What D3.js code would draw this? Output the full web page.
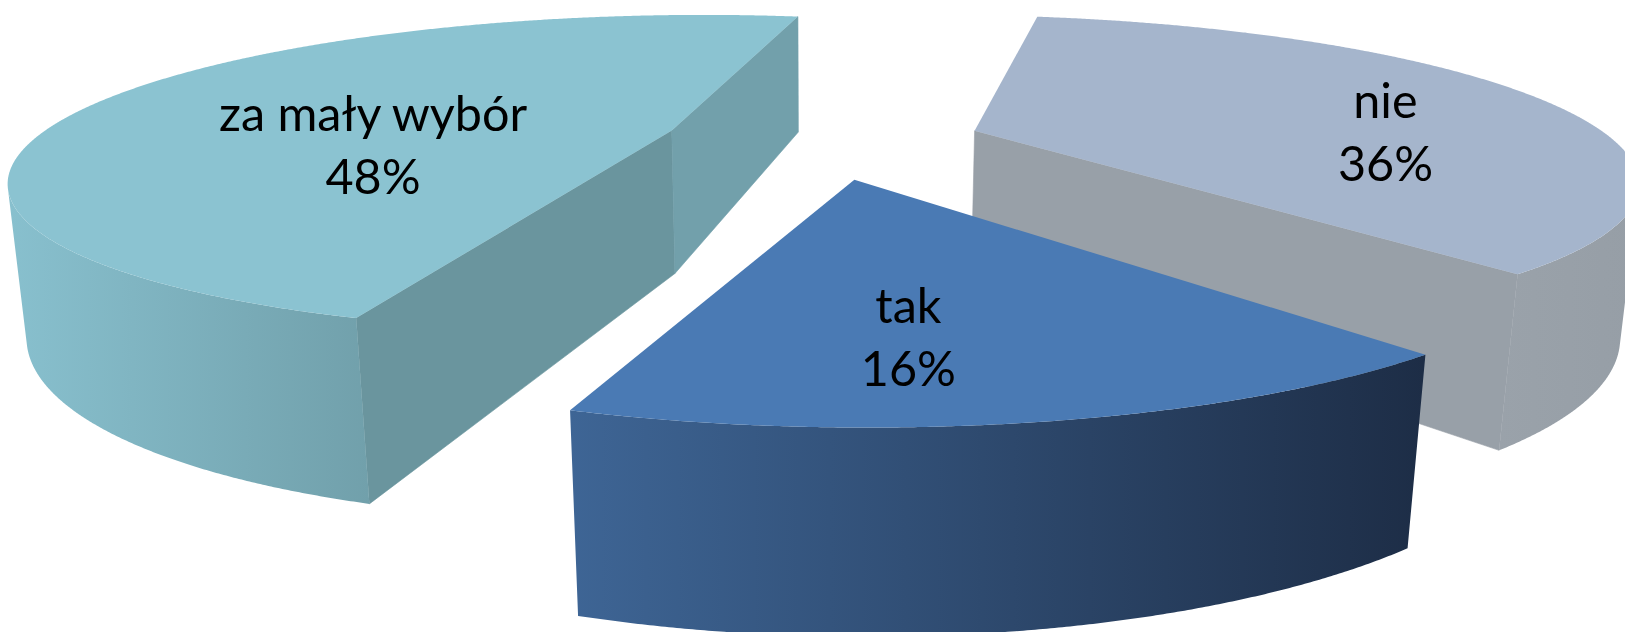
<!DOCTYPE html>
<html>
<head>
<meta charset="utf-8">
<script src="https://cdn.jsdelivr.net/npm/d3@7"></script>
<style>
  html, body { margin: 0; padding: 0; background: #ffffff; overflow: hidden; }
  svg { display: block; }
</style>
</head>
<body>
<svg id="chart" width="1625" height="632"></svg>
<script>
// Survey answers, in clockwise order seen from above
const categories  = ["nie", "tak", "za mały wybór"];
const shares      = [36, 16, 48];
const shareLabels = ["36%", "16%", "48%"];

// Face colours per slice
const topFill       = ["#a5b5cc", "#4a7ab4", "#8bc3d1"];
const wallLight     = ["#9aa2aa", "#3e6595", "#88c0ce"];
const wallDark      = ["#969ea6", "#1d2d46", "#71a0ab"];
const startFaceFill = ["#8f979f", "#2f4d75", "#6a959e"];
const endFaceFill   = ["#98a0a8", "#35537d", "#72a0ab"];

// 3-D pie geometry (unit radius) and perspective camera
const rad = Math.PI / 180;
const startAngle = 11 * rad;
const explode = 0.2495;
const thickness = 0.239;
const pitch = 18.5 * rad;
const camH = 0.822;      // camera height above the top face
const camD = 3.361;      // camera distance in front of the pie centre
const focal = 2197.5;
const principalX = 823, principalY = 322.7;

// label placement: shift from the top-face centroid, in pixels
const labelShiftX = [64, -55, 7.5];
const labelShiftY = [-4, 4, -7];
const lineGap = 63;

const sinP = Math.sin(pitch), cosP = Math.cos(pitch);

function project(X, Y, Z) {
  const rY = Y - camH, rZ = Z - camD;
  const depth = -rY * sinP - rZ * cosP;
  const v = rY * cosP - rZ * sinP;
  return [principalX + focal * X / depth, principalY - focal * v / depth];
}

const svg = d3.select("#chart");
const defs = svg.append("defs");

const arcs = d3.pie().sort(null).value(d => d)
  .startAngle(startAngle).endAngle(startAngle + 2 * Math.PI)(shares);

const slices = arcs.map((a, i) => {
  const mid = (a.startAngle + a.endAngle) / 2;
  return {
    i, a0: a.startAngle, a1: a.endAngle,
    cx: explode * Math.sin(mid),
    cz: -explode * Math.cos(mid)
  };
});

const line = d3.line();
const step = 0.25 * rad;

function rim(s, t, Y) {
  return project(s.cx + Math.sin(t), Y, s.cz - Math.cos(t));
}

function angleSamples(a0, a1) {
  const n = Math.max(2, Math.ceil((a1 - a0) / step));
  return d3.range(n + 1).map(k => a0 + (a1 - a0) * k / n);
}

// far slices first
slices.sort((p, q) => p.cz - q.cz);

slices.forEach(s => {
  const g = svg.append("g").attr("class", "slice slice-" + s.i);
  const i = s.i;

  // radial faces
  const faces = [
    { t: s.a0, n: [-Math.cos(s.a0), -Math.sin(s.a0)], fill: startFaceFill[i] },
    { t: s.a1, n: [Math.cos(s.a1), Math.sin(s.a1)], fill: endFaceFill[i] }
  ];
  faces.forEach(f => {
    const facing = f.n[0] * (0 - s.cx) + f.n[1] * (camD - s.cz);
    if (facing <= 0) return;
    const pts = [
      project(s.cx, 0, s.cz),
      rim(s, f.t, 0),
      rim(s, f.t, -thickness),
      project(s.cx, -thickness, s.cz)
    ];
    g.append("path").attr("d", line(pts) + "Z").attr("fill", f.fill)
      .attr("stroke", f.fill).attr("stroke-width", 0.6);
  });

  // outer curved wall: keep the part that faces the camera
  const ts = angleSamples(s.a0, s.a1);
  const runs = [];
  let cur = null;
  ts.forEach(t => {
    const px = s.cx + Math.sin(t), pz = s.cz - Math.cos(t);
    const vis = Math.sin(t) * (0 - px) - Math.cos(t) * (camD - pz) > 0;
    if (vis) { if (!cur) { cur = []; runs.push(cur); } cur.push(t); }
    else cur = null;
  });
  runs.forEach((run, r) => {
    const top = run.map(t => rim(s, t, 0));
    const bot = run.map(t => rim(s, t, -thickness)).reverse();
    const pts = top.concat(bot);
    const xs = d3.extent(pts, p => p[0]);
    const id = "wall-" + i + "-" + r;
    const grad = defs.append("linearGradient").attr("id", id)
      .attr("gradientUnits", "userSpaceOnUse")
      .attr("x1", xs[0]).attr("x2", xs[1]).attr("y1", 0).attr("y2", 0);
    grad.append("stop").attr("offset", 0).attr("stop-color", wallLight[i]);
    grad.append("stop").attr("offset", 1).attr("stop-color", wallDark[i]);
    g.append("path").attr("d", line(pts) + "Z").attr("fill", `url(#${id})`);
  });

  // top face
  const topPts = [project(s.cx, 0, s.cz)].concat(ts.map(t => rim(s, t, 0)));
  s.top = topPts;
  g.append("path").attr("d", line(topPts) + "Z").attr("fill", topFill[i]);
});

// data labels on each top face
const labels = svg.append("g")
  .attr("font-family", "Lato, 'Open Sans', sans-serif")
  .attr("font-size", 48.5)
  .attr("text-anchor", "middle")
  .attr("fill", "#000");

slices.forEach(s => {
  const c = d3.polygonCentroid(s.top);
  const x = c[0] + labelShiftX[s.i];
  const y = c[1] + labelShiftY[s.i] - 14;
  const t = labels.append("text");
  t.append("tspan").attr("x", x).attr("y", y).text(categories[s.i]);
  t.append("tspan").attr("x", x).attr("y", y + lineGap).text(shareLabels[s.i]);
});
</script>
</body>
</html>
